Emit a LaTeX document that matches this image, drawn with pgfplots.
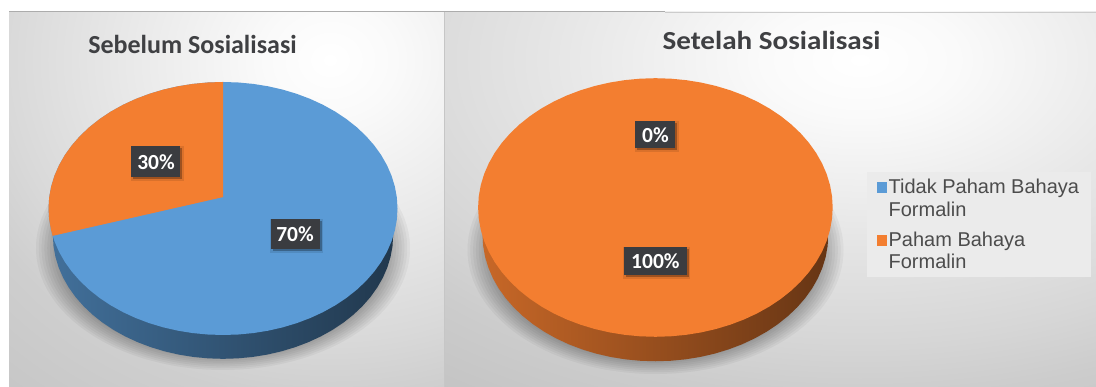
\documentclass[border=0pt]{standalone}
\usepackage{pgfplots}
\usepackage{pgfplotstable}
\usepackage{fontspec}
\pgfplotsset{compat=1.18}
\setmainfont{Liberation Sans}
\newfontfamily\carlito{Carlito}

\definecolor{pieblue}{HTML}{5B9BD6}
\definecolor{pieorange}{HTML}{F37E30}
\definecolor{boxdark}{HTML}{3A3C40}
\definecolor{titlegray}{HTML}{3F4043}

% soft studio backdrop behind each pie
\pgfdeclareradialshading{panelL}{\pgfpoint{0bp}{0bp}}{%
  color(0bp)=(white); color(3.3bp)=(white!98!black); color(10.5bp)=(white!91!black);
  color(16.45bp)=(white!85!black); color(19.75bp)=(white!81!black); color(25bp)=(white!78!black); color(50bp)=(white!78!black)}
\pgfdeclareradialshading{panelR}{\pgfpoint{0bp}{0bp}}{%
  color(0bp)=(white); color(3.3bp)=(white!98!black); color(10.5bp)=(white!90!black);
  color(16.45bp)=(white!84!black); color(19.75bp)=(white!80!black); color(25bp)=(white!76!black); color(50bp)=(white!76!black)}

% rim of a pie: polar angle, radius of the top face, radius of the base
\pgfplotstableread{
a r rb
0 1 .975
5 1 .975
10 1 .975
15 1 .975
20 1 .975
25 1 .975
30 1 .975
35 1 .975
40 1 .975
45 1 .975
50 1 .975
55 1 .975
60 1 .975
65 1 .975
70 1 .975
75 1 .975
80 1 .975
85 1 .975
90 1 .975
95 1 .975
100 1 .975
105 1 .975
110 1 .975
115 1 .975
120 1 .975
125 1 .975
130 1 .975
135 1 .975
140 1 .975
145 1 .975
150 1 .975
155 1 .975
160 1 .975
165 1 .975
170 1 .975
175 1 .975
180 1 .975
185 1 .975
190 1 .975
195 1 .975
200 1 .975
205 1 .975
210 1 .975
215 1 .975
220 1 .975
225 1 .975
230 1 .975
235 1 .975
240 1 .975
245 1 .975
250 1 .975
255 1 .975
260 1 .975
265 1 .975
270 1 .975
275 1 .975
280 1 .975
285 1 .975
290 1 .975
295 1 .975
300 1 .975
305 1 .975
310 1 .975
315 1 .975
320 1 .975
325 1 .975
330 1 .975
335 1 .975
340 1 .975
345 1 .975
350 1 .975
355 1 .975
360 1 .975
}\rim

% 30% slice (108 degrees in plan, 102.5 once the tilted disc foreshortens it),
% the apex sits slightly above the ellipse centre because of the perspective
\pgfplotstableread{
a r
90 .09
90 1
95 1
100 1
105 1
110 1
115 1
120 1
125 1
130 1
135 1
140 1
145 1
150 1
155 1
160 1
165 1
170 1
175 1
180 1
185 1
190 1
192.5 1
90 .09
}\slice

\pgfplotsset{
  pie axis/.style={hide axis, clip=false, anchor=origin,
    xmin=-1.2, xmax=1.2, ymin=-1.2, ymax=1.2},
}
\tikzset{
  valuebox/.style={fill=boxdark, text=white, inner sep=0pt, anchor=center,
    font=\carlito\bfseries\fontsize{21.5}{21.5}\selectfont},
}

\newcommand\valuelabel[5]{% x, y, width, height, text
  \node[fill=black, opacity=.10, minimum width=#3+4pt, minimum height=#4+4pt, inner sep=0pt]
    at ([shift={(1.5pt,-1.5pt)}]axis cs:#1,#2) {};
  \node[fill=black, opacity=.28, minimum width=#3, minimum height=#4, inner sep=0pt]
    at ([shift={(2pt,-2pt)}]axis cs:#1,#2) {};
  \node[valuebox, minimum width=#3, minimum height=#4] at (axis cs:#1,#2) {#5};
}

\begin{document}
\begin{tikzpicture}[x=1pt,y=1pt]
\useasboundingbox (0,0) rectangle (1096,387);

% page and the two chart panels
\fill[white] (0,0) rectangle (1096,387);
\begin{scope}
  \clip (9,0) rectangle (445,375);
  \shade[shading=panelL] (330-496,327-427) rectangle (330+496,327+427);
\end{scope}
\begin{scope}
  \clip (445,0) rectangle (1096,375);
  \shade[shading=panelR] (860-742,327-427) rectangle (860+742,327+427);
\end{scope}
\draw[gray!65, line width=1pt] (9,375) -- (665,375);
\draw[gray!40, line width=.8pt] (665,375) -- (1096,375);
\draw[gray!45, line width=1.6pt] (444.5,0) -- (444.5,375);

% shadows on the floor
\foreach \s in {1,.985,.97,.955,.94,.925,.91,.895}{
  \fill[black, opacity=.04] (223,139) ellipse [x radius=187*\s, y radius=122*\s];
  \fill[black, opacity=.04] (655.5,137) ellipse [x radius=188*\s, y radius=124*\s];
}

\begin{axis}[at={(0,0)}, anchor=south west, hide axis, x=1pt, y=1pt,
    xmin=0, xmax=1096, ymin=0, ymax=387,
    legend cell align=left,
    legend style={at={(axis cs:867,215)}, anchor=north west, draw=none,
      fill=white!92!black, inner xsep=10pt, inner ysep=5pt,
      row sep=10pt, text=black!70,
      font=\fontsize{20}{22.4}\selectfont,
      cells={align=left}},
    legend image code/.code={\fill[#1] (0pt,6pt) rectangle (9pt,16pt);}]
  \addlegendimage{pieblue}
  \addlegendentry{Tidak Paham Bahaya\\Formalin}
  \addlegendimage{pieorange}
  \addlegendentry{Paham Bahaya\\Formalin}
  \node[font=\carlito\bfseries\fontsize{26}{26}\selectfont, text=titlegray] at (axis cs:192.5,343) {Sebelum Sosialisasi};
  \node[font=\carlito\bfseries\fontsize{26}{26}\selectfont, text=titlegray, xscale=1.12] at (axis cs:771.5,347) {Setelah Sosialisasi};
\end{axis}

% Sebelum Sosialisasi: 70% and 30%
\begin{axis}[pie axis, at={(223pt,178.5pt)}, x=174.5pt, y=126.5pt, data cs=polar]
  \addplot[draw=none, left color=pieblue!72!black, middle color=pieblue!42!black, right color=pieblue!36!black, yshift=-27pt]
    table[x=a, y=rb] {\rim};
  \addplot[draw=none, fill=pieblue] table[x=a, y=r] {\rim};
  \addplot[draw=none, fill=pieorange] table[x=a, y=r] {\slice};
  \valuelabel{-.384}{.368}{49pt}{31pt}{30\%}
  \valuelabel{.413}{-.202}{49pt}{30pt}{70\%}
\end{axis}

% Setelah Sosialisasi: 0% and 100%
\begin{axis}[pie axis, at={(655.4pt,179.5pt)}, x=177.3pt, y=129.3pt, data cs=polar]
  \addplot[draw=none, left color=pieorange!82!black, middle color=pieorange!50!black, right color=pieorange!42!black, yshift=-27.7pt]
    table[x=a, y=rb] {\rim};
  \addplot[draw=none, fill=pieorange] table[x=a, y=r] {\rim};
  \valuelabel{0}{.561}{40pt}{27pt}{0\%}
  \valuelabel{0}{-.414}{63pt}{28pt}{100\%}
\end{axis}
\end{tikzpicture}
\end{document}
